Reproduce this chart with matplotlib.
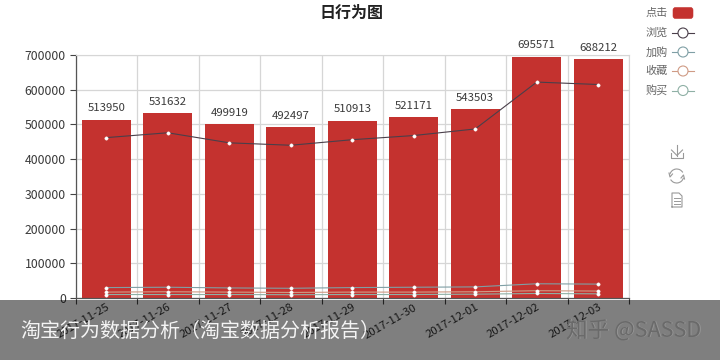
import matplotlib
matplotlib.use('Agg')
import matplotlib.pyplot as plt
from matplotlib.patches import FancyBboxPatch, Rectangle, Circle, Arc

plt.rcParams['font.family'] = ['Noto Sans CJK SC', 'DejaVu Sans']

dates = ['2017-11-25', '2017-11-26', '2017-11-27', '2017-11-28', '2017-11-29',
         '2017-11-30', '2017-12-01', '2017-12-02', '2017-12-03']
clicks = [513950, 531632, 499919, 492497, 510913, 521171, 543503, 695571, 688212]
browse = [462000, 476000, 447000, 440000, 456000, 468000, 487000, 622000, 615000]
cart = [30000, 31000, 29000, 28000, 30000, 31000, 32000, 41000, 40000]
favorite = [17000, 18000, 17000, 16000, 17000, 17000, 18000, 21000, 20000]
buy = [10000, 10000, 10000, 9500, 10000, 10000, 11000, 13000, 12000]
yticks = [0, 100000, 200000, 300000, 400000, 500000, 600000, 700000]

legend_names = ['点击', '浏览', '加购', '收藏', '购买']
RED = '#c4322f'
line_colors = ['#4a3f4a', '#7f9fa5', '#cf9b85', '#8fb0a5']
line_data = [browse, cart, favorite, buy]

fig = plt.figure(figsize=(7.2, 3.6), dpi=100)
ax = fig.add_axes([75.5 / 720, 1 - 298 / 360, 553.5 / 720, 243 / 360])

x = list(range(len(dates)))
ax.bar(x, clicks, width=0.8, color=RED, zorder=2)
for i, v in enumerate(clicks):
    ax.annotate(str(v), (i, v), xytext=(0, 4.5), textcoords='offset points',
                ha='center', va='bottom', fontsize=8.2, color='#3a3a3a', zorder=6)

# thin lines with small white dots
for vals, c in zip(line_data, line_colors):
    ax.plot(x, vals, color=c, lw=0.8, marker='o', ms=2.4, mfc='white', mec='white',
            mew=0.3, zorder=4)

ax.set_xlim(-0.5, 8.5)
ax.set_ylim(0, 700000)
ax.set_yticks(yticks)
ax.set_xticks([i - 0.5 for i in range(len(dates) + 1)])
ax.set_xticklabels([])
ax.set_xticks(x, minor=True)
ax.set_xticklabels(dates, minor=True, rotation=30, ha='right', va='top',
                   rotation_mode='anchor', fontsize=8.2, color='#333333')
ax.tick_params(axis='x', which='minor', length=0, pad=3)
ax.tick_params(axis='x', which='major', length=4, width=0.8, color='#444444')
ax.tick_params(axis='y', length=4, width=0.8, color='#444444', labelsize=8.8,
               labelcolor='#3a3a3a', pad=3)
ax.grid(True, color='#d6d6d6', lw=0.9, zorder=0)
ax.set_axisbelow(True)
for s in ['top', 'right']:
    ax.spines[s].set_color('#d6d6d6')
for s in ['left', 'bottom']:
    ax.spines[s].set_color('#555555')
    ax.spines[s].set_linewidth(0.9)

# overlay layer in pixel coordinates: title, legend, toolbox, caption band
top = fig.add_axes([0, 0, 1, 1], zorder=10)
top.set_xlim(0, 720)
top.set_ylim(360, 0)
top.axis('off')
top.patch.set_alpha(0)

top.text(352, 13, '日行为图', ha='center', va='center', fontsize=11.5,
         fontweight='bold', color='#222222')

legend_y = [13, 33, 52, 71, 90.5]
for name, y in zip(legend_names, legend_y):
    top.text(667.5, y, name, ha='right', va='center', fontsize=8, color='#666666')
top.add_patch(FancyBboxPatch((673, 7.5), 20, 11, boxstyle='round,pad=0,rounding_size=2.5',
                             fc=RED, ec=RED, lw=0.4))
for c, y in zip(line_colors, legend_y[1:]):
    top.plot([672, 694], [y, y], color=c, lw=0.8)
    top.add_patch(Circle((683, y), 5, fc='white', ec=c, lw=0.8, zorder=3))

# toolbox icons
ic = '#999999'
top.plot([671, 671, 683, 683], [153, 158, 158, 153], color=ic, lw=0.8)
top.plot([677, 677], [145, 155.5], color=ic, lw=0.8)
top.plot([671.5, 677, 682.5], [150, 155.5, 150], color=ic, lw=0.8)
top.add_patch(Arc((676.7, 176), 14, 14, theta1=15, theta2=150, color=ic, lw=0.8))
top.add_patch(Arc((676.7, 176), 14, 14, theta1=195, theta2=330, color=ic, lw=0.8))
top.plot([681, 683.5, 684.5], [178, 175, 179], color=ic, lw=0.8)
top.plot([669, 670, 672.5], [173, 177, 174], color=ic, lw=0.8)
top.plot([672, 672, 679, 682, 682, 672], [207, 193, 193, 196, 207, 207], color=ic, lw=0.8)
for y in [198, 201, 204]:
    top.plot([674, 680], [y, y], color=ic, lw=0.7)

# caption band
top.add_patch(Rectangle((0, 300), 720, 60, fc='black', ec='none', alpha=0.5, zorder=5))
top.text(20, 331, '淘宝行为数据分析（淘宝数据分析报告）', ha='left', va='center',
         fontsize=14.4, color='#f4f4f4', zorder=6)
top.text(566.6, 331.6, '知乎 @SASSD', ha='left', va='center', fontsize=15.6,
         color='#959595', zorder=6)
top.text(566, 331, '知乎 @SASSD', ha='left', va='center', fontsize=15.6,
         color='#6a6a6a', zorder=7)

fig.savefig('out.png', dpi=100)
